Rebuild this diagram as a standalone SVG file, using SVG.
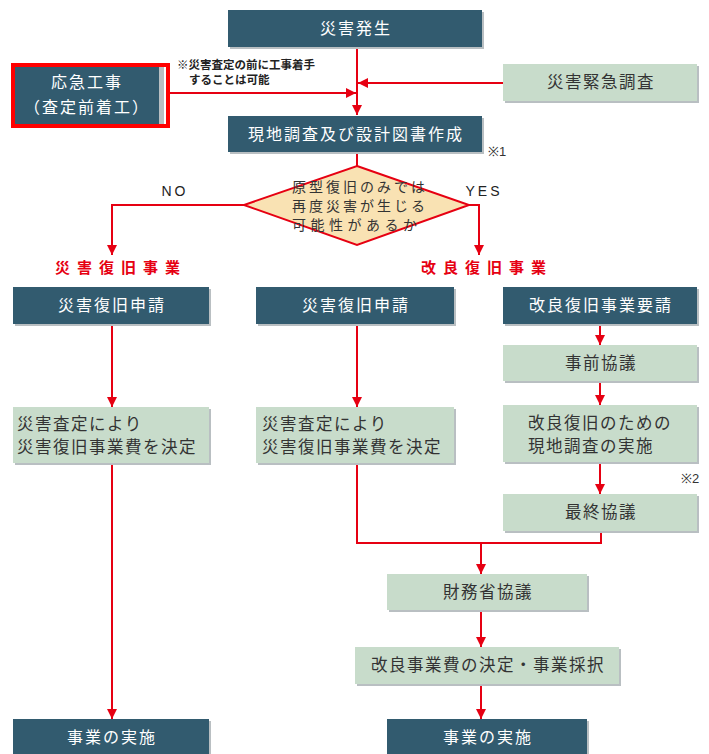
<svg xmlns="http://www.w3.org/2000/svg" width="709" height="754" viewBox="0 0 709 754">
<defs>
<marker id="ah" viewBox="0 0 10 10" refX="10" refY="5" markerWidth="10" markerHeight="10" markerUnits="userSpaceOnUse" orient="auto">
<path d="M0,0 L10,5 L0,10 z" fill="#e60012"/>
</marker>
</defs>
<style>
text{font-family:"Noto Sans CJK JP","Noto Sans",sans-serif;}
.dk{fill:#325b6f;}
.lt{fill:#c8dccb;}
.sh{fill:#b9bfc2;}
.wt{fill:#ffffff;font-size:16px;letter-spacing:2px;text-anchor:middle;}
.bt{fill:#333333;font-size:16.5px;letter-spacing:1.5px;text-anchor:middle;}
.btl{fill:#333333;font-size:16.5px;letter-spacing:1.5px;}
.rl{fill:#e60012;font-size:15px;font-weight:bold;letter-spacing:7px;}
.dt{fill:#333333;font-size:14px;letter-spacing:3px;}
.nt{fill:#222222;font-size:11.5px;font-weight:bold;}
.yn{fill:#222222;font-size:14px;letter-spacing:3px;text-anchor:middle;font-family:"Liberation Sans",sans-serif;}
.mk{fill:#333333;font-size:13px;font-family:"Liberation Sans",sans-serif;}
.cn{fill:none;stroke:#e60012;stroke-width:2;}
</style>

<g id="connectors">
<path class="cn" d="M357,47 V115" marker-end="url(#ah)"/>
<path class="cn" d="M170,93 H356" marker-end="url(#ah)"/>
<path class="cn" d="M503,83 H358" marker-end="url(#ah)"/>
<path class="cn" d="M357,152 V166"/>
<path class="cn" d="M244,205 H112 V255" marker-end="url(#ah)"/>
<path class="cn" d="M469,205 H479 V255" marker-end="url(#ah)"/>
<path class="cn" d="M112,324 V407" marker-end="url(#ah)"/>
<path class="cn" d="M357,324 V407" marker-end="url(#ah)"/>
<path class="cn" d="M600,324 V345" marker-end="url(#ah)"/>
<path class="cn" d="M600,381 V405" marker-end="url(#ah)"/>
<path class="cn" d="M600,462 V494" marker-end="url(#ah)"/>
<path class="cn" d="M357,463 V543 H601 V531"/>
<path class="cn" d="M481,543 V574" marker-end="url(#ah)"/>
<path class="cn" d="M481,610 V647" marker-end="url(#ah)"/>
<path class="cn" d="M481,684 V719" marker-end="url(#ah)"/>
<path class="cn" d="M112,463 V719" marker-end="url(#ah)"/>
</g>

<g id="n_hassei">
<rect class="sh" x="230" y="12" width="254" height="37"/>
<rect class="dk" x="228" y="10" width="254" height="37"/>
<text class="wt" x="356" y="34">災害発生</text>
</g>

<g id="n_oukyuu">
<rect class="sh" x="17" y="67" width="147" height="59"/>
<rect class="dk" x="15" y="65" width="144" height="59"/>
<rect x="13" y="65" width="155" height="61" fill="none" stroke="#ff0000" stroke-width="4"/>
<text class="wt" x="87" y="88">応急工事</text>
<text class="wt" x="87" y="113">（査定前着工）</text>
</g>

<g id="n_note">
<text class="nt" x="177" y="69">※災害査定の前に工事着手</text>
<text class="nt" x="189" y="84">することは可能</text>
</g>

<g id="n_kinkyuu">
<rect class="sh" x="505" y="66" width="194" height="37"/>
<rect class="lt" x="503" y="64" width="194" height="37"/>
<text class="bt" x="601" y="88">災害緊急調査</text>
</g>

<g id="n_genchi">
<rect class="sh" x="230" y="118" width="254" height="36"/>
<rect class="dk" x="228" y="116" width="254" height="36"/>
<text class="wt" x="356" y="140">現地調査及び設計図書作成</text>
<text class="mk" x="488" y="156">※1</text>
</g>

<g id="n_diamond">
<polygon points="357,166 469,205 357,245 244,205" fill="#f9e2b3" stroke="#e60012" stroke-width="2"/>
<text class="dt" x="292" y="192">原型復旧のみでは</text>
<text class="dt" x="292" y="211">再度災害が生じる</text>
<text class="dt" x="292" y="230" textLength="128" lengthAdjust="spacing">可能性があるか</text>
<text class="yn" x="175" y="196">NO</text>
<text class="yn" x="484" y="196">YES</text>
</g>

<g id="n_label1">
<text class="rl" x="55" y="273">災害復旧事業</text>
</g>
<g id="n_label2">
<text class="rl" x="421" y="273">改良復旧事業</text>
</g>

<g id="n_shinsei1">
<rect class="sh" x="15" y="289" width="196" height="37"/>
<rect class="dk" x="13" y="287" width="196" height="37"/>
<text class="wt" x="112" y="311">災害復旧申請</text>
</g>
<g id="n_shinsei2">
<rect class="sh" x="258" y="289" width="198" height="37"/>
<rect class="dk" x="256" y="287" width="198" height="37"/>
<text class="wt" x="356" y="311">災害復旧申請</text>
</g>
<g id="n_yousei">
<rect class="sh" x="505" y="289" width="194" height="37"/>
<rect class="dk" x="503" y="287" width="194" height="37"/>
<text class="wt" x="601" y="311">改良復旧事業要請</text>
</g>

<g id="n_jizen">
<rect class="sh" x="505" y="347" width="194" height="36"/>
<rect class="lt" x="503" y="345" width="194" height="36"/>
<text class="bt" x="601" y="369">事前協議</text>
</g>

<g id="n_satei1">
<rect class="sh" x="15" y="409" width="196" height="56"/>
<rect class="lt" x="13" y="407" width="196" height="56"/>
<text class="btl" x="17" y="430">災害査定により</text>
<text class="btl" x="17" y="453">災害復旧事業費を決定</text>
</g>
<g id="n_satei2">
<rect class="sh" x="258" y="409" width="198" height="56"/>
<rect class="lt" x="256" y="407" width="198" height="56"/>
<text class="btl" x="262" y="430">災害査定により</text>
<text class="btl" x="262" y="453">災害復旧事業費を決定</text>
</g>
<g id="n_kairyou">
<rect class="sh" x="505" y="407" width="194" height="57"/>
<rect class="lt" x="503" y="405" width="194" height="57"/>
<text class="btl" x="528" y="429">改良復旧のための</text>
<text class="btl" x="528" y="452">現地調査の実施</text>
<text class="mk" x="681" y="483">※2</text>
</g>

<g id="n_saishuu">
<rect class="sh" x="505" y="496" width="194" height="37"/>
<rect class="lt" x="503" y="494" width="194" height="37"/>
<text class="bt" x="601" y="518">最終協議</text>
</g>

<g id="n_zaimu">
<rect class="sh" x="389" y="576" width="200" height="36"/>
<rect class="lt" x="387" y="574" width="200" height="36"/>
<text class="bt" x="488" y="598">財務省協議</text>
</g>

<g id="n_saitaku">
<rect class="sh" x="357" y="649" width="264" height="37"/>
<rect class="lt" x="355" y="647" width="264" height="37"/>
<text class="bt" x="488" y="671">改良事業費の決定・事業採択</text>
</g>

<g id="n_jisshi1">
<rect class="sh" x="15" y="721" width="196" height="37"/>
<rect class="dk" x="13" y="719" width="196" height="37"/>
<text class="wt" x="112" y="743">事業の実施</text>
</g>
<g id="n_jisshi2">
<rect class="sh" x="389" y="721" width="200" height="37"/>
<rect class="dk" x="387" y="719" width="200" height="37"/>
<text class="wt" x="488" y="743">事業の実施</text>
</g>
</svg>
